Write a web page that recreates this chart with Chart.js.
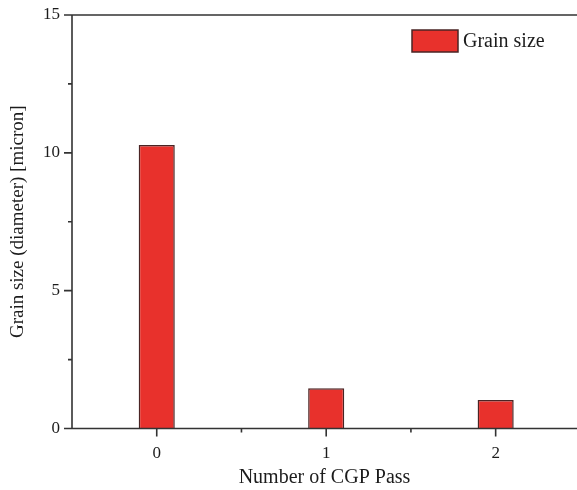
<!DOCTYPE html>
<html lang="en">
<head>
  <meta charset="UTF-8">
  <title>Grain size vs CGP pass</title>
  <script src="https://cdn.jsdelivr.net/npm/chart.js"></script>
  <style>
    html, body {
      margin: 0;
      padding: 0;
      background: #ffffff;
      overflow: hidden;
    }
    .chart-box {
      width: 577px;
      height: 490px;
      position: relative;
    }
  </style>
</head>
<body>
  <div class="chart-box">
    <canvas id="grainChart"></canvas>
  </div>

  <script>
    // datos
    const cgpPass = [0, 1, 2];
    const grainSize = [10.28, 1.46, 1.03];
    const yMajorTicks = [0, 5, 10, 15];
    const yMinorTicks = [2.5, 7.5, 12.5];
    const xMajorTicks = [0, 1, 2];
    const xMinorTicks = [0.5, 1.5];

    const serif = "'Liberation Serif', 'Times New Roman', serif";
    const axisColor = '#333333';
    const textColor = '#1c1c1c';

    // lineas de ejes, borde superior y marcas de ticks
    const axesPlugin = {
      id: 'axesPlugin',
      afterDatasetsDraw(chart) {
        const { ctx, chartArea, scales } = chart;
        const { left, right, top, bottom } = chartArea;
        ctx.save();
        ctx.strokeStyle = axisColor;
        ctx.lineWidth = 1.6;
        ctx.beginPath();
        ctx.moveTo(left, top);
        ctx.lineTo(right, top);
        ctx.moveTo(left, top);
        ctx.lineTo(left, bottom);
        ctx.lineTo(right, bottom);
        yMajorTicks.forEach(v => {
          const y = scales.y.getPixelForValue(v);
          ctx.moveTo(left - 8, y);
          ctx.lineTo(left, y);
        });
        yMinorTicks.forEach(v => {
          const y = scales.y.getPixelForValue(v);
          ctx.moveTo(left - 4, y);
          ctx.lineTo(left, y);
        });
        xMajorTicks.forEach(v => {
          const x = scales.x.getPixelForValue(v);
          ctx.moveTo(x, bottom);
          ctx.lineTo(x, bottom + 8);
        });
        xMinorTicks.forEach(v => {
          const x = scales.x.getPixelForValue(v);
          ctx.moveTo(x, bottom);
          ctx.lineTo(x, bottom + 4);
        });
        ctx.stroke();
        ctx.restore();
      }
    };

    // leyenda dentro del area, arriba a la derecha
    const legendPlugin = {
      id: 'insideLegend',
      afterDraw(chart) {
        const { ctx, chartArea } = chart;
        const ds = chart.data.datasets[0];
        const bx = chartArea.right - 165;
        const by = chartArea.top + 15;
        ctx.save();
        ctx.fillStyle = ds.backgroundColor;
        ctx.strokeStyle = ds.borderColor;
        ctx.lineWidth = 1.5;
        ctx.fillRect(bx, by, 46, 22);
        ctx.strokeRect(bx, by, 46, 22);
        ctx.fillStyle = textColor;
        ctx.font = '20px ' + serif;
        ctx.textBaseline = 'middle';
        ctx.fillText(ds.label, bx + 51, by + 12);
        ctx.restore();
      }
    };

    const ctx = document.getElementById('grainChart').getContext('2d');
    const grainChart = new Chart(ctx, {
      type: 'bar',
      data: {
        datasets: [{
          label: 'Grain size',
          data: cgpPass.map((p, i) => ({ x: p, y: grainSize[i] })),
          backgroundColor: '#e8312c',
          borderColor: '#4a2424',
          borderWidth: 1.5,
          borderSkipped: 'bottom',
          barPercentage: 0.213,
          categoryPercentage: 1
        }]
      },
      options: {
        responsive: true,
        maintainAspectRatio: false,
        animation: false,
        layout: {
          padding: { top: 15, right: 0, bottom: 0, left: 0 }
        },
        scales: {
          x: {
            type: 'linear',
            offset: false,
            min: -0.5,
            max: 2.48,
            grid: { display: false, drawTicks: false },
            border: { display: false },
            ticks: {
              stepSize: 1,
              includeBounds: false,
              padding: 15,
              color: textColor,
              font: { family: serif, size: 17 },
              callback: v => Number.isInteger(v) ? String(v) : ''
            },
            title: {
              display: true,
              text: 'Number of CGP Pass',
              color: textColor,
              font: { family: serif, size: 20 },
              padding: { top: 0, bottom: 0 }
            },
            afterFit(scale) {
              scale.height = 61.5;
              scale.paddingLeft = 0;
              scale.paddingRight = 0;
            }
          },
          y: {
            min: 0,
            max: 15,
            grid: { display: false, drawTicks: false },
            border: { display: false },
            ticks: {
              stepSize: 5,
              padding: 12,
              color: textColor,
              font: { family: serif, size: 17 }
            },
            title: {
              display: true,
              text: 'Grain size (diameter) [micron]',
              color: textColor,
              font: { family: serif, size: 19 },
              padding: { top: 7, bottom: 0 }
            },
            afterFit(scale) {
              scale.width = 72;
              scale.paddingTop = 0;
              scale.paddingBottom = 0;
            }
          }
        },
        plugins: {
          legend: { display: false },
          tooltip: { enabled: false }
        }
      },
      plugins: [axesPlugin, legendPlugin]
    });
  </script>
</body>
</html>
